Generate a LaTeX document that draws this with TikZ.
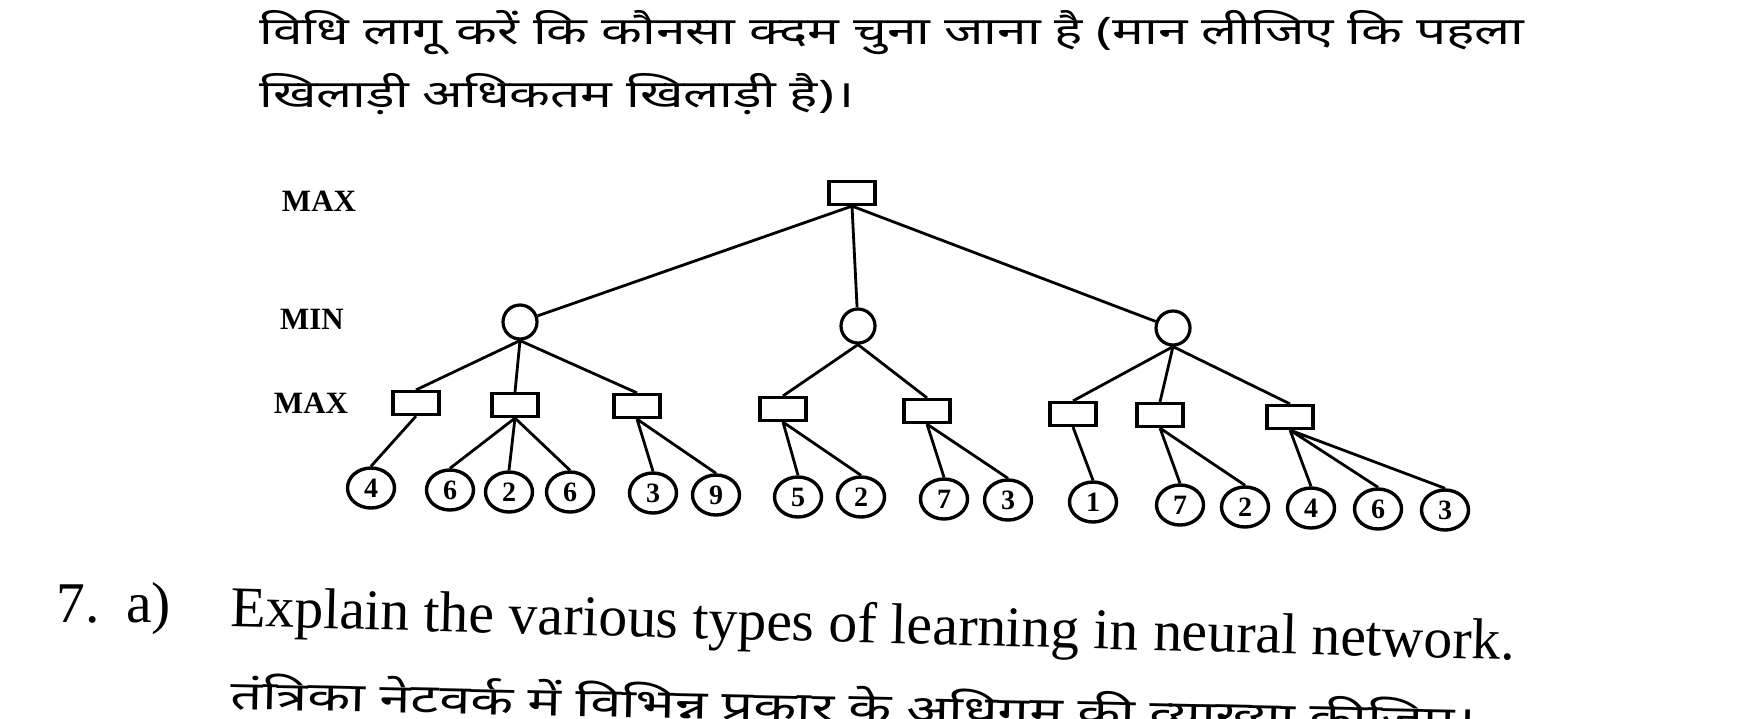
\documentclass[tikz,border=0pt]{standalone}
\usepackage{fontspec}
\setmainfont{Liberation Serif}
\newfontfamily\hindi[Script=Devanagari,FakeStretch=1.4]{Noto Sans}
\usetikzlibrary{shapes.geometric}

\begin{document}
\begin{tikzpicture}[x=0.5pt,y=-0.5pt,line width=1.4pt,
    maxnode/.style={draw,rectangle,minimum width=23pt,minimum height=11.5pt,inner sep=0pt,line width=1.6pt},
    minnode/.style={draw,circle,minimum size=17pt,inner sep=0pt,line width=1.6pt},
    leaf/.style={draw,ellipse,minimum width=23.5pt,minimum height=20pt,inner sep=0pt,line width=1.7pt,
      font=\fontsize{14}{16}\selectfont\bfseries},
    levellabel/.style={font=\fontsize{15.5}{18}\selectfont\bfseries},
    hinditext/.style={anchor=base west,inner sep=0pt,font=\hindi\fontsize{19}{22}\selectfont},
    engtext/.style={anchor=base west,inner sep=0pt,font=\fontsize{28.8}{32}\selectfont}]
  \clip (0,0) rectangle (1754,718);

  \node[hinditext] (line1) at (258,44) {विधि लागू करें कि कौनसा क्दम चुना जाना है (मान लीजिए कि पहला};
  \node[hinditext] (line2) at (258,107) {खिलाड़ी अधिकतम खिलाड़ी है)।};

  \node[levellabel] (lmax1) at (319,201) {MAX};
  \node[levellabel] (lmin) at (312,319) {MIN};
  \node[levellabel] (lmax2) at (311,403) {MAX};

  \node[maxnode] (root) at (852,193) {};
  \node[minnode] (m1) at (520,322) {};
  \node[minnode] (m2) at (858,326) {};
  \node[minnode] (m3) at (1173,328) {};

  \node[maxnode] (a) at (416,403) {};
  \node[maxnode] (b) at (515,405) {};
  \node[maxnode] (c) at (637,406) {};
  \node[maxnode] (d) at (783,409) {};
  \node[maxnode] (e) at (927,411) {};
  \node[maxnode] (f) at (1073,414) {};
  \node[maxnode] (g) at (1160,415) {};
  \node[maxnode] (h) at (1290,417) {};

  \node[leaf] (l1) at (371,488) {4};
  \node[leaf] (l2) at (450,490) {6};
  \node[leaf] (l3) at (509,492) {2};
  \node[leaf] (l4) at (570,492) {6};
  \node[leaf] (l5) at (653,493) {3};
  \node[leaf] (l6) at (716,495) {9};
  \node[leaf] (l7) at (798,497) {5};
  \node[leaf] (l8) at (861,497) {2};
  \node[leaf] (l9) at (944,499) {7};
  \node[leaf] (l10) at (1008,500) {3};
  \node[leaf] (l11) at (1093,502) {1};
  \node[leaf] (l12) at (1180,505) {7};
  \node[leaf] (l13) at (1245,507) {2};
  \node[leaf] (l14) at (1311,508) {4};
  \node[leaf] (l15) at (1378,509) {6};
  \node[leaf] (l16) at (1445,510) {3};

  \draw (root.south) -- (m1) (root.south) -- (m2) (root.south) -- (m3);
  \draw (m1.south) -- (a.north) (m1.south) -- (b.north) (m1.south) -- (c.north);
  \draw (m2.south) -- (d.north) (m2.south) -- (e.north);
  \draw (m3.south) -- (f.north) (m3.south) -- (g.north) (m3.south) -- (h.north);
  \draw (a.south) -- (l1.north);
  \draw (b.south) -- (l2.north) (b.south) -- (l3.north) (b.south) -- (l4.north);
  \draw (c.south) -- (l5.north) (c.south) -- (l6.north);
  \draw (d.south) -- (l7.north) (d.south) -- (l8.north);
  \draw (e.south) -- (l9.north) (e.south) -- (l10.north);
  \draw (f.south) -- (l11.north);
  \draw (g.south) -- (l12.north) (g.south) -- (l13.north);
  \draw (h.south) -- (l14.north) (h.south) -- (l15.north) (h.south) -- (l16.north);

  \node[engtext] (qno) at (55,622) {7.};
  \node[engtext] (qpart) at (125,622) {a)};
  \node[engtext,rotate=-1.5] (line3) at (229,626) {Explain the various types of learning in neural network.};
  \node[hinditext,font=\hindi\fontsize{20}{24}\selectfont,rotate=-1.2] (line4) at (229,709) {तंत्रिका नेटवर्क में विभिन्न प्रकार के अधिगम की व्याख्या कीजिए।};
\end{tikzpicture}
\end{document}
